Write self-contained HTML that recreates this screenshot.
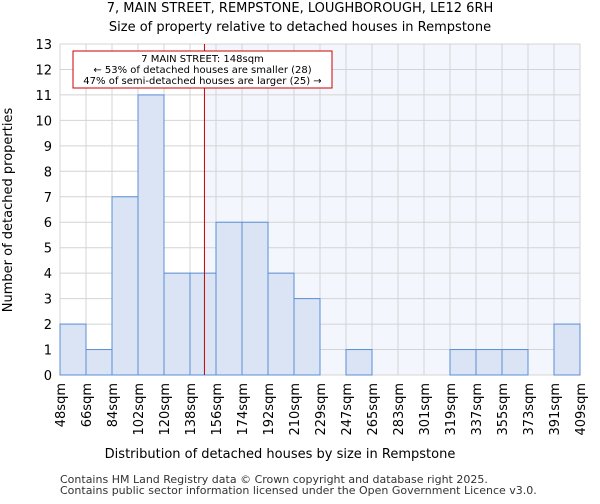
<!DOCTYPE html>
<html><head><meta charset="utf-8"><style>
body{margin:0;background:#fff;font-family:"DejaVu Sans","Liberation Sans",sans-serif}
</style></head><body>
<svg id="c" width="600" height="500" xmlns="http://www.w3.org/2000/svg" font-family="DejaVu Sans, Liberation Sans, sans-serif">
<text x="300" y="12" text-anchor="middle" font-size="13">7, MAIN STREET, REMPSTONE, LOUGHBOROUGH, LE12 6RH</text>
<text x="300" y="31" text-anchor="middle" font-size="13">Size of property relative to detached houses in Rempstone</text>
<g id="plot"></g>
<text x="280" y="458" text-anchor="middle" font-size="13">Distribution of detached houses by size in Rempstone</text>
<text transform="translate(12,210) rotate(-90)" text-anchor="middle" font-size="13">Number of detached properties</text>
<text x="60" y="483" font-size="11" fill="#333">Contains HM Land Registry data © Crown copyright and database right 2025.</text>
<text x="60" y="494" font-size="11" fill="#333">Contains public sector information licensed under the Open Government Licence v3.0.</text>
</svg>
<script>
const categories=["48sqm","66sqm","84sqm","102sqm","120sqm","138sqm","156sqm","174sqm","192sqm","210sqm","229sqm","247sqm","265sqm","283sqm","301sqm","319sqm","337sqm","355sqm","373sqm","391sqm","409sqm"];
const binEdges=[48,66,84,102,120,138,156,174,192,210,229,247,265,283,301,319,337,355,373,391,409];
const counts=[2,1,7,11,4,4,6,6,4,3,0,1,0,0,0,1,1,1,0,2];
const yTicks=[0,1,2,3,4,5,6,7,8,9,10,11,12,13];
const propertySize=148;
const NS="http://www.w3.org/2000/svg";
const X0=60,X1=580,Y0=375,Y1=44,YMAX=13;
const nb=counts.length;
const bw=(X1-X0)/nb;
function xi(i){return X0+i*bw;}
function xv(v){for(let i=0;i<binEdges.length-1;i++){if(v>=binEdges[i]&&v<=binEdges[i+1])return xi(i)+(v-binEdges[i])/(binEdges[i+1]-binEdges[i])*bw;}return X1;}
function y(v){return Y0-(v/YMAX)*(Y0-Y1);}
const g=document.getElementById('plot');
function mk(t,a){const e=document.createElementNS(NS,t);for(const k in a)e.setAttribute(k,a[k]);g.appendChild(e);return e;}
const mx=xv(propertySize);
let e=mk('rect',{x:mx,y:Y1,width:X1-mx,height:Y0-Y1,fill:'#f3f6fc'});


for(let i=0;i<=nb;i++){e=mk('line',{x1:xi(i),x2:xi(i),y1:Y1,y2:Y0,stroke:'#d4d4d4','stroke-width':1});

}
yTicks.forEach(t=>{e=mk('line',{x1:X0,x2:X1,y1:y(t),y2:y(t),stroke:'#d4d4d4','stroke-width':1});


e=mk('text',{x:X0-8,y:y(t)+5,'text-anchor':'end','font-size':13});e.textContent=t;

});
counts.forEach((c,i)=>{if(c<=0)return;e=mk('rect',{x:xi(i),y:y(c),width:bw,height:Y0-y(c),fill:'#dae4f4',stroke:'#5b8fd6','stroke-width':1});

});
categories.forEach((c,i)=>{const x=xi(i);e=mk('text',{transform:`translate(${x+5},${Y0+8}) rotate(-90)`,'text-anchor':'end','font-size':13});e.textContent=c;

});
e=mk('line',{x1:mx,x2:mx,y1:Y1,y2:Y0,stroke:'#cc0000','stroke-width':1});


e=mk('rect',{x:73,y:51,width:259,height:37,fill:'#fff',stroke:'#cc0000','stroke-width':1});


const lines=["7 MAIN STREET: 148sqm","← 53% of detached houses are smaller (28)","47% of semi-detached houses are larger (25) →"];
lines.forEach((l,i)=>{e=mk('text',{x:202.5,y:62+i*11,'text-anchor':'middle','font-size':10});e.textContent=l;

});
</script>
</body></html>
